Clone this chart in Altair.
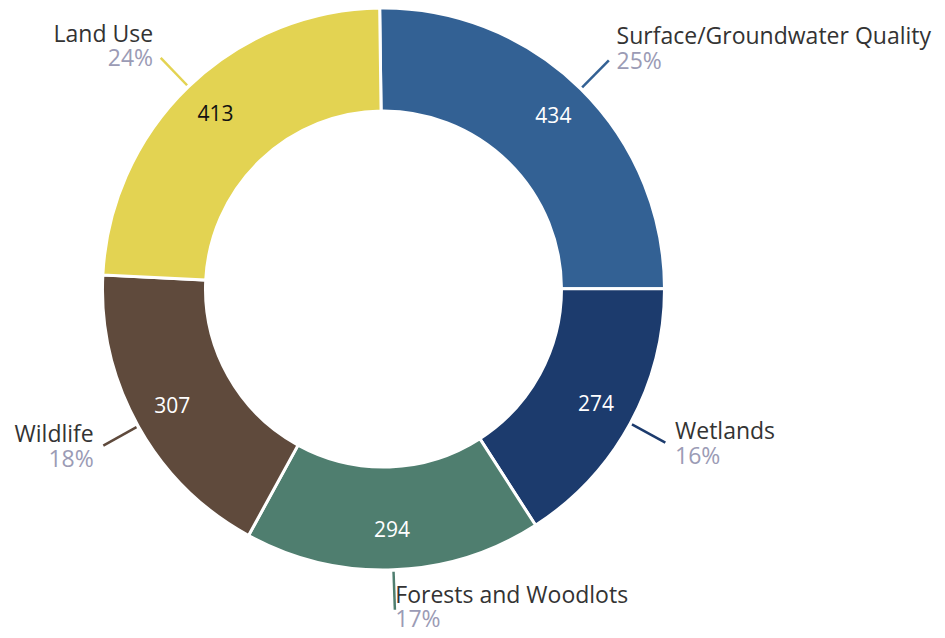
import altair as alt
import pandas as pd
import math

categories = ["Surface/Groundwater Quality", "Wetlands", "Forests and Woodlots", "Wildlife", "Land Use"]
values = [434, 274, 294, 307, 413]
colors = ["#336194", "#1c3b6d", "#4f7e6f", "#5f4a3c", "#e3d352"]

df = pd.DataFrame({"category": categories, "value": values, "idx": list(range(len(values)))})

CX, CY = 375.5, 281
H = 622
ROT = -0.0136  # slight rotation of the ring start
FONT = "Open Sans"

color_scale = alt.Scale(domain=categories, range=colors)
theta_scale = alt.Scale(range=[2 * math.pi + ROT, 4 * math.pi + ROT])

base = alt.Chart(df)

arcs = base.mark_arc(outerRadius=281, innerRadius=178, stroke="white", strokeWidth=3).encode(
    theta=alt.Theta("value:Q", stack=True, scale=theta_scale),
    order=alt.Order("idx:Q"),
    color=alt.Color("category:N", scale=color_scale, legend=None),
    x=alt.value(CX), y=alt.value(CY),
)

vals = base.mark_text(radius=242, fontSize=21, font=FONT).encode(
    theta=alt.Theta("value:Q", stack=True, scale=theta_scale),
    order=alt.Order("idx:Q"),
    text=alt.Text("value:Q"),
    color=alt.condition(alt.datum.category == "Land Use", alt.value("#111111"), alt.value("white")),
    x=alt.value(CX), y=alt.value(CY),
)

geo = base.transform_joinaggregate(total="sum(value)").transform_window(
    cum="sum(value)", sort=[alt.SortField("idx")], frame=[None, 0]
).transform_calculate(
    mid=f"2*PI*(datum.cum - datum.value/2)/datum.total + ({ROT})",
).transform_calculate(
    s="sin(datum.mid)", c="cos(datum.mid)",
).transform_calculate(
    x1=f"{CX} + 283*datum.s", y1=f"{CY} - 283*datum.c",
    x2=f"{CX} + 321*datum.s", y2=f"{CY} - 321*datum.c",
).transform_calculate(
    tx="datum.x2 + 11*datum.s",
    py0="datum.y2 + 9 - 10.9*datum.c",
    pct="format(datum.value/datum.total, '.0%')",
).transform_calculate(
    py=f"min(datum.py0, {H} - 10)",
).transform_calculate(
    ny="datum.py - 24.5",
)

lines = geo.mark_rule(strokeWidth=2.5).encode(
    x=alt.X("x1:Q", scale=None, axis=None), y=alt.Y("y1:Q", scale=None, axis=None),
    x2="x2:Q", y2="y2:Q",
    color=alt.Color("category:N", scale=color_scale, legend=None),
)

def labels(side_filter, align):
    g = geo.transform_filter(side_filter)
    name = g.mark_text(align=align, baseline="middle", fontSize=23, font=FONT, color="#333333").encode(
        x=alt.X("tx:Q", scale=None, axis=None), y=alt.Y("ny:Q", scale=None, axis=None), text="category:N"
    )
    pct = g.mark_text(align=align, baseline="middle", fontSize=23, font=FONT, color="#9b9bb5").encode(
        x=alt.X("tx:Q", scale=None, axis=None), y=alt.Y("py:Q", scale=None, axis=None), text="pct:N"
    )
    return name + pct

right = labels("datum.s >= 0", "left")
left = labels("datum.s < 0", "right")

chart = alt.layer(arcs, vals, lines, right, left).properties(
    width=929, height=H, padding=0, autosize=alt.AutoSizeParams(type="none")
).configure_view(stroke=None)

chart.save("out.html", embed_options={"renderer": "svg", "actions": False})
